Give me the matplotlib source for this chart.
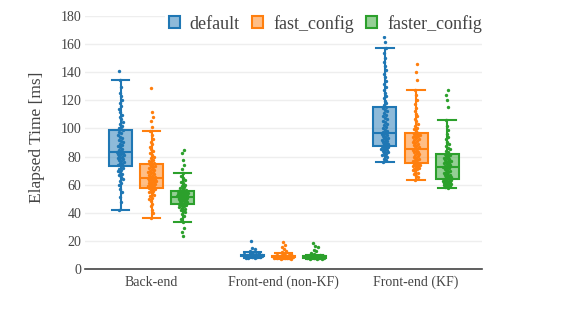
import numpy as np
import matplotlib.pyplot as plt
from matplotlib.patches import Patch

categories = ['Back-end', 'Front-end (non-KF)', 'Front-end (KF)']
series = ['default', 'fast_config', 'faster_config']
colors = ['#1f77b4', '#ff7f0e', '#2ca02c']

# box statistics [ms], one entry per category
default_lo = [42.3, 7.6, 76.2]
default_q1 = [73.0, 9.0, 87.5]
default_med = [83.0, 9.5, 97.0]
default_q3 = [99.0, 10.2, 115.5]
default_hi = [134.2, 12.0, 157.4]

fast_lo = [36.2, 7.0, 63.4]
fast_q1 = [57.8, 8.2, 75.2]
fast_med = [65.0, 8.8, 85.5]
fast_q3 = [74.7, 9.5, 96.5]
fast_hi = [98.3, 11.4, 127.1]

faster_lo = [33.3, 6.9, 57.5]
faster_q1 = [46.0, 7.9, 63.8]
faster_med = [51.0, 8.3, 72.8]
faster_q3 = [55.5, 8.9, 81.6]
faster_hi = [68.2, 9.9, 106.3]

# measured samples [ms]
default_back = [42.3, 47.5, 51.2, 54.8, 57.1, 59.6, 61.4, 62.9, 64.3, 65.5, 66.8, 67.9, 68.8, 69.7, 70.6, 71.4, 72.2,
                73.1, 73.8, 74.6, 75.3, 76.0, 76.7, 77.4, 78.1, 78.7, 79.3, 79.9, 80.5, 81.1, 81.6, 82.1, 82.6, 82.9,
                83.3, 84.0, 84.9, 85.7, 86.6, 87.4, 88.3, 89.2, 90.1, 91.0, 92.0, 93.1, 94.2, 95.3, 96.5, 97.6, 98.7,
                99.4, 100.6, 101.9, 103.3, 104.8, 106.4, 108.1, 109.9, 111.8, 113.6, 115.7, 117.9, 120.3, 122.8,
                125.4, 129.6, 134.2, 141.0]
default_nonkf = [7.6, 7.9, 8.1, 8.3, 8.4, 8.6, 8.7, 8.8, 8.9, 9.0, 9.1, 9.2, 9.2, 9.3, 9.4, 9.5, 9.5, 9.6, 9.7, 9.8,
                 9.9, 10.0, 10.1, 10.2, 10.3, 10.5, 10.7, 10.9, 11.2, 11.6, 12.1, 12.8, 13.9, 15.2, 20.1]
default_kf = [76.2, 77.4, 78.5, 79.4, 80.2, 80.9, 81.6, 82.3, 82.9, 83.5, 84.1, 84.6, 85.1, 85.6, 86.1, 86.5, 86.9, 87.3,
              87.7, 88.2, 88.7, 89.2, 89.7, 90.2, 90.8, 91.3, 91.8, 92.4, 92.9, 93.5, 94.0, 94.6, 95.2, 95.8, 96.3, 96.8,
              97.4, 98.3, 99.2, 100.2, 101.2, 102.2, 103.3, 104.3, 105.4, 106.5, 107.6, 108.7, 109.9, 111.0, 112.2,
              113.3, 114.4, 115.3, 116.4, 118.0, 119.7, 121.5, 123.4, 125.3, 127.3, 129.4, 131.6, 133.9, 136.3,
              138.8, 141.4, 144.1, 147.0, 150.2, 153.6, 157.4, 161.7, 164.8]

fast_back = [36.2, 39.5, 42.1, 44.6, 46.4, 48.1, 49.6, 50.8, 51.9, 52.9, 53.8, 54.6, 55.3, 56.0, 56.6, 57.1, 57.6,
             58.0, 58.5, 59.0, 59.4, 59.9, 60.3, 60.8, 61.2, 61.7, 62.1, 62.6, 63.0, 63.4, 63.8, 64.2, 64.6, 64.9,
             65.3, 65.8, 66.3, 66.9, 67.5, 68.1, 68.7, 69.3, 69.9, 70.5, 71.1, 71.8, 72.4, 73.0, 73.6, 74.1, 74.6,
             75.2, 76.0, 76.9, 77.8, 78.8, 79.9, 81.1, 82.4, 83.8, 85.3, 86.9, 88.6, 90.4, 92.5, 95.1, 98.3,
             101.2, 105.0, 108.1, 111.6, 128.7]
fast_nonkf = [7.0, 7.3, 7.5, 7.7, 7.8, 7.9, 8.0, 8.1, 8.2, 8.3, 8.4, 8.5, 8.5, 8.6, 8.7, 8.8, 8.8, 8.9, 9.0, 9.1,
              9.2, 9.3, 9.4, 9.6, 9.8, 10.0, 10.3, 10.7, 11.2, 11.9, 12.8, 14.0, 15.6, 17.3, 19.5]
fast_kf = [63.4, 65.1, 66.5, 67.6, 68.6, 69.5, 70.2, 70.9, 71.5, 72.1, 72.6, 73.1, 73.5, 73.9, 74.3, 74.6, 74.9,
           75.3, 75.9, 76.5, 77.2, 77.8, 78.4, 79.0, 79.7, 80.3, 80.9, 81.6, 82.2, 82.9, 83.5, 84.2, 84.8, 85.3,
           85.9, 86.6, 87.3, 88.0, 88.7, 89.4, 90.1, 90.8, 91.5, 92.2, 92.9, 93.6, 94.3, 94.9, 95.5, 96.0, 96.4,
           97.0, 98.1, 99.3, 100.6, 102.0, 103.5, 105.1, 106.8, 108.6, 110.5, 112.6, 114.8, 117.3, 120.1, 123.5,
           127.1, 134.5, 140.4, 145.6]

faster_back = [23.2, 26.4, 29.1, 33.3, 35.8, 37.6, 39.0, 40.2, 41.2, 42.1, 42.9, 43.6, 44.2, 44.8, 45.3, 45.8,
               46.2, 46.6, 47.0, 47.4, 47.8, 48.1, 48.5, 48.8, 49.2, 49.5, 49.9, 50.2, 50.5, 50.8, 51.1, 51.4,
               51.7, 52.0, 52.3, 52.5, 52.8, 53.0, 53.3, 53.5, 53.8, 54.0, 54.3, 54.5, 54.8, 55.0, 55.2, 55.4,
               55.8, 56.3, 56.9, 57.5, 58.2, 59.0, 59.9, 60.9, 62.0, 63.3, 64.8, 66.4, 68.2, 71.0, 74.1, 77.6,
               82.3, 84.6]
faster_nonkf = [6.9, 7.2, 7.4, 7.6, 7.7, 7.8, 7.9, 8.0, 8.1, 8.2, 8.2, 8.3, 8.3, 8.4, 8.5, 8.6, 8.7, 8.8, 8.9, 9.0,
                9.2, 9.4, 9.7, 10.1, 10.6, 11.4, 12.5, 13.8, 15.4, 16.7, 18.5]
faster_kf = [57.5, 58.1, 58.7, 59.2, 59.6, 60.0, 60.4, 60.8, 61.2, 61.5, 61.9, 62.2, 62.5, 62.8, 63.1, 63.4, 63.7,
             64.1, 64.6, 65.1, 65.6, 66.1, 66.6, 67.1, 67.6, 68.1, 68.7, 69.2, 69.8, 70.4, 71.0, 71.6, 72.2, 72.6,
             73.1, 73.6, 74.1, 74.6, 75.1, 75.6, 76.1, 76.6, 77.1, 77.6, 78.2, 78.7, 79.3, 79.8, 80.4, 80.9, 81.4,
             82.1, 83.0, 84.0, 85.1, 86.3, 87.6, 89.0, 90.6, 92.3, 94.2, 96.4, 98.9, 101.7, 106.3, 115.5, 120.2,
             123.8, 127.3]

boxes = [
    (default_lo, default_q1, default_med, default_q3, default_hi),
    (fast_lo, fast_q1, fast_med, fast_q3, fast_hi),
    (faster_lo, faster_q1, faster_med, faster_q3, faster_hi),
]
samples = [
    [default_back, default_nonkf, default_kf],
    [fast_back, fast_nonkf, fast_kf],
    [faster_back, faster_nonkf, faster_kf],
]

plt.rcParams['font.family'] = ['Liberation Serif', 'DejaVu Serif']
txt = '#444444'

fig = plt.figure(figsize=(5.61, 3.22), dpi=100)
ax = fig.add_axes([0.1524, 0.1646, 0.7070, 0.7857])

offsets = [-0.235, 0.0, 0.235]
bw = 0.174
hw = 0.088  # half width of the jittered point cloud at its densest

for s in range(3):
    col = colors[s]
    lo, q1, med, q3, hi = boxes[s]
    stats = []
    for c in range(3):
        stats.append(dict(whislo=lo[c], q1=q1[c], med=med[c], q3=q3[c], whishi=hi[c], fliers=[]))
    pos = [c + offsets[s] for c in range(3)]
    ax.bxp(stats, positions=pos, widths=bw, capwidths=0.13, patch_artist=True, showfliers=False,
           boxprops=dict(facecolor=col, edgecolor=col, linewidth=1.5),
           medianprops=dict(color=col, linewidth=1.5),
           whiskerprops=dict(color=col, linewidth=1.5),
           capprops=dict(color=col, linewidth=1.5),
           manage_ticks=False, zorder=2)
    # jittered points, spread scaled with local density
    for c in range(3):
        v = np.array(samples[s][c])
        n = len(v)
        frac = np.array([np.sum(np.abs(v - x) <= 1.5) for x in v]) / n
        k = np.minimum(1.0, np.sqrt(frac / 0.6))
        u = ((np.arange(n) * 0.6180339887 + 0.31 * s) % 1.0) * 2 - 1
        ax.scatter(pos[c] + u * k * hw * 0.85, v, s=6, color=col, linewidths=0, zorder=3)

# make box fills translucent
for p in ax.patches:
    fc = p.get_facecolor()
    p.set_facecolor((fc[0], fc[1], fc[2], 0.5))

ax.set_xlim(-0.5, 2.5)
ax.set_ylim(0, 180)
ax.set_yticks(range(0, 181, 20))
ax.set_xticks(range(3))
ax.set_xticklabels(categories)
ax.tick_params(axis='both', length=0, labelsize=10, labelcolor=txt)
ax.tick_params(axis='y', pad=3)
ax.tick_params(axis='x', pad=5)
ax.grid(axis='y', color='#eeeeee', linewidth=1)
ax.set_axisbelow(True)
for sp in ['top', 'right', 'left']:
    ax.spines[sp].set_visible(False)
ax.spines['bottom'].set_color(txt)
ax.spines['bottom'].set_linewidth(1.2)

ax.set_ylabel('Elapsed Time [ms]', fontsize=12.5, color=txt)
ax.yaxis.set_label_coords(-0.102, 0.52)

handles = [Patch(facecolor=(*plt.matplotlib.colors.to_rgb(c), 0.5), edgecolor=c, linewidth=1.5) for c in colors]
leg = ax.legend(handles, series, loc='center', bbox_to_anchor=(0.605, 0.97), ncol=3, fontsize=13,
                frameon=True, framealpha=1, edgecolor='none', facecolor='white', fancybox=False,
                handlelength=0.6, handleheight=0.6, handletextpad=0.55, columnspacing=0.7,
                borderpad=0.2, borderaxespad=0)
for t in leg.get_texts():
    t.set_color(txt)

fig.savefig('out.png', dpi=100)
